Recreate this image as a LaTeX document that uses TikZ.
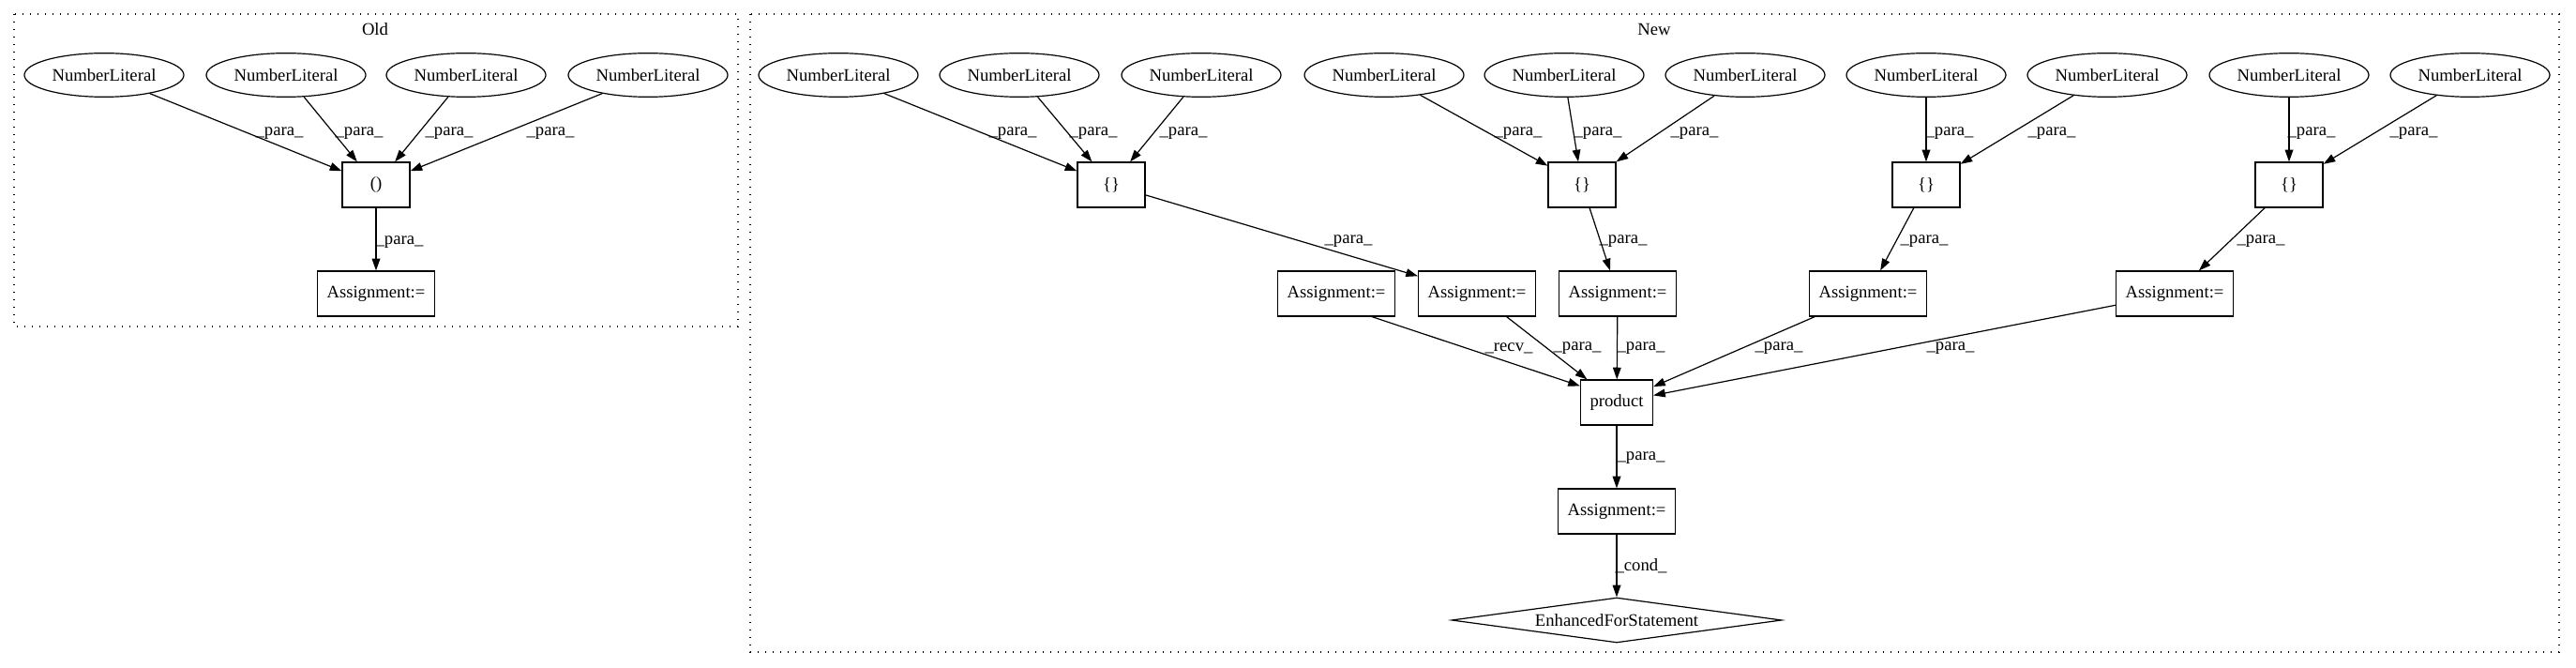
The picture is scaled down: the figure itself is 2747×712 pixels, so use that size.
\documentclass[tikz,border=0pt]{standalone}
\usepackage{fontspec}
\setmainfont{Liberation Serif}
\usetikzlibrary{shapes.geometric, arrows.meta}

\begin{document}
\begin{tikzpicture}[x=0.75pt, y=-0.75pt,
    every node/.style={font=\fontsize{14pt}{16pt}\selectfont},
    lit/.style={draw, ellipse, line width=0.9pt, minimum width=127.5pt,
      minimum height=35pt, inner sep=0pt},
    box/.style={draw, rectangle, line width=0.9pt, minimum width=54pt,
      minimum height=36pt, inner xsep=7.5pt},
    cond/.style={draw, diamond, line width=0.9pt, aspect=7.3,
      minimum width=264pt, minimum height=36pt, inner sep=0pt},
    arr/.style={line width=0.9pt, -{Triangle[length=9.5pt, width=6.5pt]}},
    lbl/.style={inner sep=0pt},
    cluster/.style={line width=0.9pt, dash pattern=on 1pt off 5pt}
  ]
    \useasboundingbox (0,0) rectangle (2747,712);

    % clusters
    \draw[cluster] (15,15) rectangle (787,348);
    \node (old) at (400,31) {Old};
    \draw[cluster] (800,15) rectangle (2729,695);
    \node (new) at (1764,31) {New};

    % old part
    \node[lit] (o1) at (111,80) {NumberLiteral};
    \node[lit] (o2) at (305,80) {NumberLiteral};
    \node[lit] (o3) at (497,80) {NumberLiteral};
    \node[lit] (o4) at (691,80) {NumberLiteral};
    \node[box] (tup) at (401,197) {()};
    \node[box] (oasg) at (401,313) {Assignment:=};

    \draw[arr] (o1) -- (tup);
    \draw[arr] (o2) -- (tup);
    \draw[arr] (o3) -- (tup);
    \draw[arr] (o4) -- (tup);
    \draw[arr] (tup) -- (oasg);
    \node[lbl] (lo1) at (298,142) {\_para\_};
    \node[lbl] (lo2) at (383,142) {\_para\_};
    \node[lbl] (lo3) at (479,142) {\_para\_};
    \node[lbl] (lo4) at (587,142) {\_para\_};
    \node[lbl] (lo5) at (426,258) {\_para\_};

    % new part
    \node[lit] (n1) at (894,80) {NumberLiteral};
    \node[lit] (n2) at (1087,80) {NumberLiteral};
    \node[lit] (n3) at (1281,80) {NumberLiteral};
    \node[lit] (n4) at (1476,80) {NumberLiteral};
    \node[lit] (n5) at (1668,80) {NumberLiteral};
    \node[lit] (n6) at (1861,80) {NumberLiteral};
    \node[lit] (n7) at (2054,80) {NumberLiteral};
    \node[lit] (n8) at (2247,80) {NumberLiteral};
    \node[lit] (n9) at (2441,80) {NumberLiteral};
    \node[lit] (n10) at (2634,80) {NumberLiteral};

    \node[box] (arr1) at (1185,197) {\{\}};
    \node[box] (arr2) at (1687,197) {\{\}};
    \node[box] (arr3) at (2054,197) {\{\}};
    \node[box] (arr4) at (2441,197) {\{\}};

    \node[box] (asg1) at (1425,313) {Assignment:=};
    \node[box] (asg2) at (1575,313) {Assignment:=};
    \node[box] (asg3) at (1725,313) {Assignment:=};
    \node[box] (asg4) at (1992,313) {Assignment:=};
    \node[box] (asg5) at (2319,313) {Assignment:=};

    \node[box] (prod) at (1724,429) {product};
    \node[box] (asg6) at (1724,545) {Assignment:=};
    \node[cond] (efor) at (1724,661) {EnhancedForStatement};

    \draw[arr] (n1) -- (arr1);
    \draw[arr] (n2) -- (arr1);
    \draw[arr] (n3) -- (arr1);
    \draw[arr] (n4) -- (arr2);
    \draw[arr] (n5) -- (arr2);
    \draw[arr] (n6) -- (arr2);
    \draw[arr] (n7) -- (arr3);
    \draw[arr] (n8) -- (arr3);
    \draw[arr] (n9) -- (arr4);
    \draw[arr] (n10) -- (arr4);
    \draw[arr] (arr1) -- (asg2);
    \draw[arr] (arr2) -- (asg3);
    \draw[arr] (arr3) -- (asg4);
    \draw[arr] (arr4) -- (asg5);
    \draw[arr] ([xshift=28.5pt]asg1.south) -- ([yshift=-5.25pt]prod.north west);
    \draw[arr] (asg2) -- (prod);
    \draw[arr] (asg3) -- (prod);
    \draw[arr] (asg4) -- (prod);
    \draw[arr] (asg5) -- (prod);
    \draw[arr] (prod) -- (asg6);
    \draw[arr] (asg6) -- (efor);

    \node[lbl] (l1) at (1080,142) {\_para\_};
    \node[lbl] (l2) at (1166,142) {\_para\_};
    \node[lbl] (l3) at (1262,142) {\_para\_};
    \node[lbl] (l4) at (1619,142) {\_para\_};
    \node[lbl] (l5) at (1704,142) {\_para\_};
    \node[lbl] (l6) at (1807,142) {\_para\_};
    \node[lbl] (l7) at (2079,142) {\_para\_};
    \node[lbl] (l8) at (2188,142) {\_para\_};
    \node[lbl] (l9) at (2465,142) {\_para\_};
    \node[lbl] (l10) at (2574,142) {\_para\_};
    \node[lbl] (l11) at (1438,257) {\_para\_};
    \node[lbl] (l12) at (1731,257) {\_para\_};
    \node[lbl] (l13) at (2052,257) {\_para\_};
    \node[lbl] (l14) at (2411,257) {\_para\_};
    \node[lbl] (l15) at (1609,371) {\_recv\_};
    \node[lbl] (l16) at (1682,371) {\_para\_};
    \node[lbl] (l17) at (1750,371) {\_para\_};
    \node[lbl] (l18) at (1897,371) {\_para\_};
    \node[lbl] (l19) at (2080,371) {\_para\_};
    \node[lbl] (l20) at (1750,488) {\_para\_};
    \node[lbl] (l21) at (1750,603) {\_cond\_};
\end{tikzpicture}
\end{document}
